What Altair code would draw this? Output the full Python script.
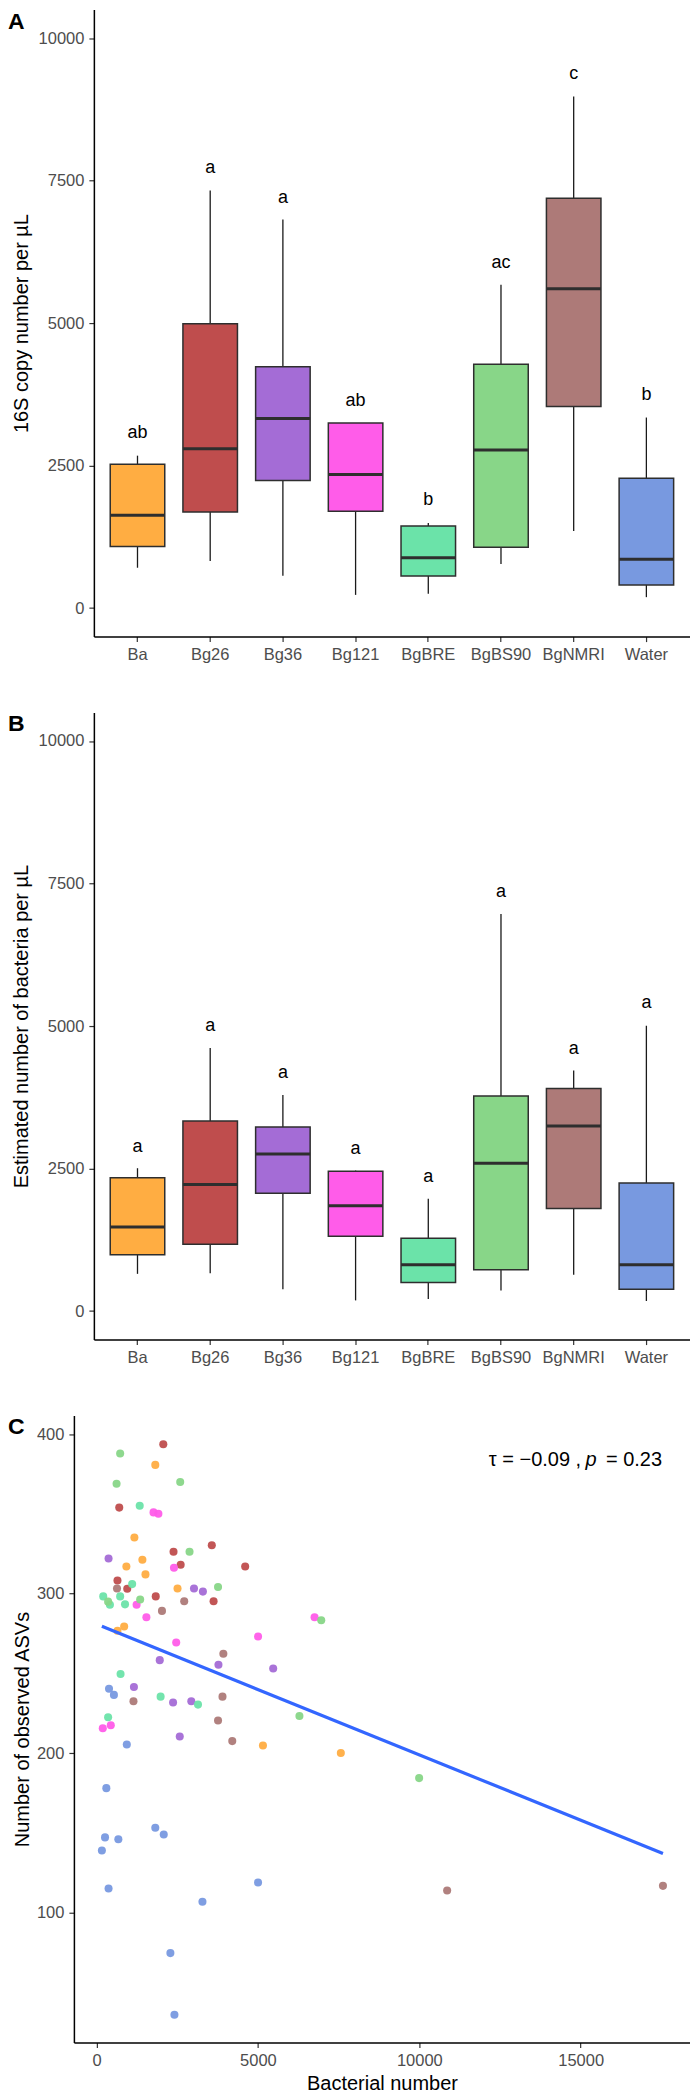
import altair as alt
import pandas as pd

FONT = "Liberation Sans"

# ---------------- data ----------------
groups = ["Ba", "Bg26", "Bg36", "Bg121", "BgBRE", "BgBS90", "BgNMRI", "Water"]
colors = ["#FFAD42", "#BF4D4D", "#A46CD6", "#FF5CE9", "#6BE3A9", "#88D688", "#AD7A78", "#7899E0"]

# Panel A: 16S copy number per uL (box statistics)
a_lo = [708, 825, 569, 232, 250, 773, 1354, 192]
a_q1 = [1081, 1686, 2238, 1697, 564, 1069, 3535, 406]
a_med = [1628, 2797, 3326, 2343, 883, 2773, 5600, 855]
a_q3 = [2523, 4989, 4233, 3245, 1441, 4279, 7188, 2279]
a_hi = [2674, 7327, 6815, 3245, 1494, 5670, 8973, 3343]
a_letters = ["ab", "a", "a", "ab", "b", "ac", "c", "b"]
a_letter_y = [3063, 7716, 7193, 3634, 1889, 6047, 9374, 3739]

# Panel B: estimated number of bacteria per uL
b_lo = [653, 665, 385, 187, 210, 362, 636, 175]
b_q1 = [986, 1172, 2069, 1312, 502, 724, 1801, 385]
b_med = [1475, 2220, 2757, 1848, 811, 2594, 3246, 811]
b_q3 = [2337, 3334, 3229, 2454, 1276, 3771, 3905, 2245]
b_hi = [2506, 4615, 3789, 2465, 1970, 6965, 4220, 5007]
b_letters = ["a", "a", "a", "a", "a", "a", "a", "a"]
b_letter_y = [2885, 4995, 4179, 2845, 2355, 7343, 4605, 5400]

# Panel C: bacterial number vs observed ASVs
c_x = {
    "Ba": [1820, 1172, 1420, 924, 1516, 2509, 855, 648, 5156, 7569],
    "Bg26": [2068, 703, 3571, 2385, 4605, 2606, 648, 951, 1834, 3626],
    "Bg36": [372, 3019, 3295, 1958, 3777, 5473, 1158, 2371, 2936, 2578],
    "Bg121": [1765, 1916, 2399, 1241, 1544, 6755, 5004, 2468, 193, 441],
    "BgBRE": [1337, 1103, 207, 731, 414, 882, 744, 1985, 3143, 358],
    "BgBS90": [731, 620, 2592, 2881, 3764, 358, 1351, 6962, 6286, 9995],
    "BgNMRI": [634, 2716, 2027, 3929, 3902, 1144, 3764, 4205, 10863, 17550],
    "Water": [386, 538, 937, 303, 1820, 2082, 262, 675, 165, 5004, 372, 3281, 2288, 2413],
}
c_y = {
    "Ba": [380.8, 335.2, 321.3, 317.1, 312.1, 303.3, 279.4, 276.7, 204.8, 200.0],
    "Bg26": [393.8, 354.0, 330.4, 326.3, 317.1, 318.1, 308.3, 303.1, 298.3, 295.2],
    "Bg36": [322.1, 303.3, 301.3, 258.3, 255.4, 253.1, 241.5, 231.7, 232.5, 210.4],
    "Bg121": [351.0, 350.2, 316.3, 293.1, 285.2, 285.2, 273.1, 269.4, 215.6, 217.5],
    "BgBRE": [355.2, 306.0, 298.3, 298.3, 293.1, 293.3, 249.6, 235.4, 230.4, 222.5],
    "BgBS90": [387.9, 369.0, 370.0, 326.3, 304.2, 295.0, 296.3, 283.3, 223.3, 184.3],
    "BgNMRI": [303.3, 295.2, 289.2, 262.3, 235.4, 232.5, 220.4, 207.5, 113.8, 116.7],
    "Water": [240.4, 236.5, 205.4, 178.0, 153.1, 148.9, 147.1, 146.0, 138.9, 118.8, 115.1, 106.7, 74.5, 35.8],
}
fit_x = [165, 17550]
fit_y = [279.5, 137.0]
ann_parts = ["τ = −0.09 ,", "p", "= 0.23"]
ann_x = [15015, 15325, 17521]
ann_y = [384.1, 384.1, 384.1]

panel_letters = ["A", "B", "C"]
a_title = "16S copy number per µL"
b_title = "Estimated number of bacteria per µL"
c_xtitle = "Bacterial number"
c_ytitle = "Number of observed ASVs"

W, H = 617, 628
color_scale = alt.Scale(domain=groups, range=colors)


def letter_layer(letter):
    return alt.Chart(pd.DataFrame({"t": [letter]})).mark_text(
        fontSize=23, fontWeight="bold", align="left", baseline="alphabetic",
        font=FONT, color="black"
    ).encode(x=alt.value(-66), y=alt.value(19), text="t:N")


def box_panel(lo, q1, med, q3, hi, letters, letter_y, ytitle, letter):
    df = pd.DataFrame({"group": groups, "lo": lo, "q1": q1, "med": med, "q3": q3,
                       "hi": hi, "lab": letters, "lab_y": letter_y})
    xenc = alt.X("group:N", sort=groups,
                 scale=alt.Scale(domain=groups, range=[20, W], paddingInner=0.25, paddingOuter=0.225),
                 axis=alt.Axis(title=None, labelAngle=0, labelPadding=5))
    yscale = alt.Scale(domain=[-500, 10500], nice=False, zero=False)
    yaxis = alt.Axis(values=[0, 2500, 5000, 7500, 10000], format="d", offset=-20,
                     title=ytitle, titlePadding=7)

    def Y(f):
        return alt.Y(f"{f}:Q", scale=yscale, axis=yaxis)

    base = alt.Chart(df)
    whisk = base.mark_rule(color="#1a1a1a", strokeWidth=1.3).encode(x=xenc, y=Y("lo"), y2="hi:Q")
    box = base.mark_bar(stroke="#2e2e2e", strokeWidth=1.5).encode(
        x=xenc, y=Y("q1"), y2="q3:Q",
        color=alt.Color("group:N", scale=color_scale, legend=None))
    medl = base.mark_tick(color="#2e2e2e", thickness=3, size=54.6, opacity=1).encode(x=xenc, y=Y("med"))
    txt = base.mark_text(fontSize=18, baseline="middle", color="black", font=FONT).encode(
        x=xenc, y=Y("lab_y"), text="lab:N")
    return alt.layer(whisk, box, medl, txt, letter_layer(letter)).properties(width=W, height=H)


panel_a = box_panel(a_lo, a_q1, a_med, a_q3, a_hi, a_letters, a_letter_y, a_title, panel_letters[0])
panel_b = box_panel(b_lo, b_q1, b_med, b_q3, b_hi, b_letters, b_letter_y, b_title, panel_letters[1])

rows = []
for g in groups:
    for xv, yv in zip(c_x[g], c_y[g]):
        rows.append({"group": g, "bact": xv, "asv": yv})
sc = pd.DataFrame(rows)

xs = alt.Scale(domain=[-702, 18388], nice=False, zero=False)
ys = alt.Scale(domain=[18.4, 411.8], nice=False, zero=False)
xa = alt.Axis(values=[0, 5000, 10000, 15000], format="d", title=c_xtitle, titlePadding=5, labelPadding=5)
ya = alt.Axis(values=[100, 200, 300, 400], format="d", title=c_ytitle, titlePadding=4)

pts = alt.Chart(sc).mark_circle(size=65, opacity=0.95).encode(
    x=alt.X("bact:Q", scale=xs, axis=xa),
    y=alt.Y("asv:Q", scale=ys, axis=ya),
    color=alt.Color("group:N", scale=color_scale, legend=None))
fit = alt.Chart(pd.DataFrame({"bact": fit_x, "asv": fit_y})).mark_line(
    color="#3366FF", strokeWidth=3.2).encode(
    x=alt.X("bact:Q", scale=xs, axis=xa), y=alt.Y("asv:Q", scale=ys, axis=ya))


def ann(i, align, style):
    d = pd.DataFrame({"bact": [ann_x[i]], "asv": [ann_y[i]], "t": [ann_parts[i]]})
    return alt.Chart(d).mark_text(fontSize=20, align=align, baseline="middle", font=FONT,
                                  fontStyle=style, color="black").encode(
        x=alt.X("bact:Q", scale=xs, axis=xa), y=alt.Y("asv:Q", scale=ys, axis=ya), text="t:N")


panel_c = alt.layer(pts, fit, ann(0, "right", "normal"), ann(1, "center", "italic"),
                    ann(2, "right", "normal"), letter_layer(panel_letters[2])).properties(width=W, height=H)

chart = alt.vconcat(panel_a, panel_b, panel_c, spacing=76, bounds="flush").resolve_scale(
    x="independent", y="independent"
).properties(padding=0).configure(font=FONT).configure_view(strokeWidth=0).configure_axis(
    domainColor="black", domainWidth=1.5, tickColor="#333333", tickWidth=1.2, tickSize=5,
    labelFont=FONT, labelFontSize=16.5, labelColor="#4d4d4d", titleFont=FONT, titleFontSize=20,
    titleFontWeight="normal", titleColor="black", grid=False, labelPadding=5
)

chart.save("out.html", embed_options={"renderer": "svg", "actions": False})
